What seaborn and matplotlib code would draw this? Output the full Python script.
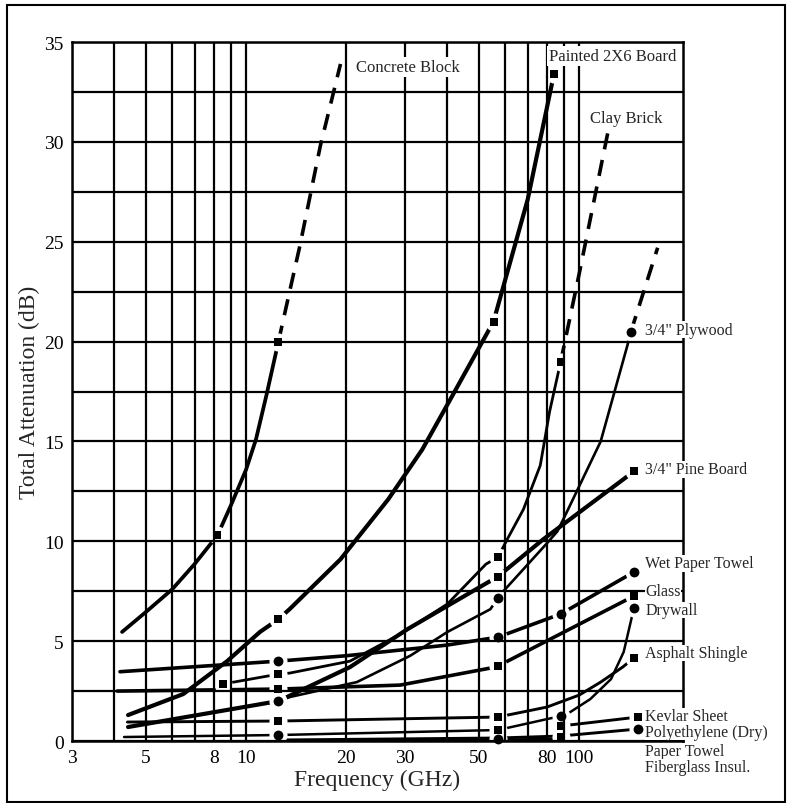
import matplotlib
matplotlib.use("Agg")
import matplotlib.pyplot as plt
import seaborn as sns
from matplotlib.ticker import FixedLocator, NullFormatter, FuncFormatter, MultipleLocator
from matplotlib.patches import Rectangle

# --- data (frequency in GHz, attenuation in dB) ---
concrete_f = [4.24, 5.0, 6.0, 7.0, 8.2, 9.0, 10.0, 10.7, 11.5, 12.5]
concrete_db = [5.46, 6.46, 7.6, 8.86, 10.3, 11.8, 13.6, 15.1, 17.3, 20.0]
concrete_ext_f = [12.5, 14.5, 16.7, 19.2]
concrete_ext_db = [20.0, 24.8, 29.8, 33.9]

painted_f = [4.42, 6.47, 8.77, 11.0, 12.5, 13.5, 19.2, 26.7, 33.8, 41.0, 55.3, 70.0, 84.0]
painted_db = [1.3, 2.35, 4.0, 5.46, 6.1, 6.6, 9.1, 12.1, 14.6, 17.1, 21.0, 27.1, 33.4]

clay_f = [8.5, 12.5, 13.5, 20.5, 29.1, 40.2, 52.5, 57.0, 60.8, 68.0, 76.4, 81.5, 88.0]
clay_db = [2.85, 3.35, 3.4, 4.0, 5.36, 6.86, 8.86, 9.2, 10.1, 11.6, 13.8, 16.5, 19.0]
clay_ext_f = [88.0, 100.0, 122.0]
clay_ext_db = [19.0, 23.4, 30.5]

pine_f = [4.42, 12.5, 20.5, 30.5, 53.4, 57.0, 59.2, 78.0, 146.0]
pine_db = [0.7, 2.0, 3.7, 5.6, 7.96, 8.2, 8.46, 10.1, 13.5]

plywood_f = [12.5, 13.5, 21.5, 31.1, 40.2, 54.1, 57.0, 59.2, 80.0, 86.0, 92.0, 116.0, 139.5, 143.0]
plywood_db = [2.0, 2.2, 2.95, 4.27, 5.46, 6.6, 7.15, 7.5, 9.9, 10.5, 11.5, 15.0, 19.8, 20.5]
plywood_ext_f = [143.0, 172.0]
plywood_ext_db = [20.5, 24.7]

wet_f = [4.18, 12.5, 20.0, 40.0, 57.0, 88.0, 146.0]
wet_db = [3.47, 4.0, 4.27, 4.8, 5.2, 6.36, 8.46]

glass_f = [4.1, 12.5, 29.0, 54.0, 57.0, 146.0]
glass_db = [2.5, 2.6, 2.8, 3.65, 3.75, 7.26]

drywall_f = [4.3, 12.5, 57.0, 88.0, 94.0, 108.0, 124.6, 136.0, 146.0]
drywall_db = [0.2, 0.3, 0.55, 1.25, 1.45, 2.1, 3.1, 4.46, 6.66]

asphalt_f = [4.4, 12.5, 57.0, 80.0, 100.0, 116.0, 135.0, 146.0]
asphalt_db = [0.95, 1.0, 1.2, 1.7, 2.3, 2.95, 3.7, 4.16]

kevlar_f = [88.0, 150.0]
kevlar_db = [0.75, 1.2]
poly_f = [88.0, 150.0]
poly_db = [0.25, 0.6]
paper_f = [12.5, 57.0, 88.0]
paper_db = [0.05, 0.15, 0.25]
fiber_f = [12.5, 57.0, 88.0]
fiber_db = [0.0, 0.05, 0.1]

# measured points
sq_f = [8.2, 12.5, 12.5, 55.3, 84.0, 8.5, 12.5, 57.0, 88.0, 57.0, 146.0, 12.5, 57.0,
        146.0, 12.5, 57.0, 146.0, 57.0, 88.0, 88.0, 150.0]
sq_db = [10.3, 20.0, 6.1, 21.0, 33.4, 2.85, 3.35, 9.2, 19.0, 8.2, 13.5, 2.6, 3.75,
         7.26, 1.0, 1.2, 4.16, 0.55, 0.75, 0.2, 1.2]
ci_f = [12.5, 57.0, 88.0, 146.0, 12.5, 57.0, 143.0, 146.0, 88.0, 12.5, 57.0, 150.0]
ci_db = [4.0, 5.2, 6.36, 8.46, 2.0, 7.15, 20.5, 6.66, 1.25, 0.3, 0.1, 0.6]

# curve labels
top_labels = ["Concrete Block", "Painted 2X6 Board", "Clay Brick"]
top_label_f = [21.4, 81.0, 107.5]
top_label_db = [33.75, 34.3, 31.2]
side_labels = ['3/4" Plywood', '3/4" Pine Board', "Wet Paper Towel", "Glass", "Drywall",
               "Asphalt Shingle", "Kevlar Sheet", "Polyethylene (Dry)", "Paper Towel",
               "Fiberglass Insul."]
side_label_db = [20.6, 13.6, 8.9, 7.5, 6.56, 4.4, 1.25, 0.45, -0.5, -1.3]

x_labeled = [3, 5, 8, 10, 20, 30, 50, 80, 100]
x_unlabeled = [4, 6, 7, 9, 40, 60, 70, 90]

sns.set_style("white")
plt.rcParams['font.family'] = ['Liberation Serif', 'DejaVu Serif']

fig = plt.figure(figsize=(7.87, 8.04), dpi=100)
ax = fig.add_axes([0.0915, 0.0771, 0.7764, 0.8694])
ax.set_xscale('log')

# solid curves
solid = [
    (concrete_f, concrete_db, 2.7),
    (painted_f, painted_db, 3.0),
    (clay_f, clay_db, 2.0),
    (pine_f, pine_db, 3.0),
    (plywood_f, plywood_db, 1.9),
    (wet_f, wet_db, 2.6),
    (glass_f, glass_db, 2.6),
    (drywall_f, drywall_db, 1.8),
    (asphalt_f, asphalt_db, 2.1),
    (kevlar_f, kevlar_db, 2.1),
    (poly_f, poly_db, 2.1),
    (paper_f, paper_db, 2.1),
    (fiber_f, fiber_db, 2.1),
]
for xs, ys, lw in solid:
    sns.lineplot(x=xs, y=ys, ax=ax, color='black', lw=lw, sort=False,
                 estimator=None, zorder=2)

# dashed extrapolations
for xs, ys in [(concrete_ext_f, concrete_ext_db), (clay_ext_f, clay_ext_db),
               (plywood_ext_f, plywood_ext_db)]:
    sns.lineplot(x=xs, y=ys, ax=ax, color='black', lw=2.6, sort=False,
                 estimator=None, zorder=2, linestyle=(0, (4.5, 3)))

# white gaps around the markers, then the markers
sns.scatterplot(x=sq_f + ci_f, y=sq_db + ci_db, ax=ax, color='white', marker='o',
                s=170, linewidth=0, zorder=2.2, clip_on=False)
sns.scatterplot(x=sq_f, y=sq_db, ax=ax, color='black', marker='s', s=30,
                linewidth=0, zorder=3, clip_on=False)
sns.scatterplot(x=ci_f, y=ci_db, ax=ax, color='black', marker='o', s=50,
                linewidth=0, zorder=3, clip_on=False)

ax.set_xlim(3, 205)
ax.set_ylim(0, 35)
ax.set_axisbelow(False)

ax.xaxis.set_major_locator(FixedLocator(x_labeled))
ax.xaxis.set_minor_locator(FixedLocator(x_unlabeled))
ax.xaxis.set_major_formatter(FuncFormatter(lambda v, p: f"{v:g}"))
ax.xaxis.set_minor_formatter(NullFormatter())
ax.yaxis.set_major_locator(MultipleLocator(5))
ax.yaxis.set_minor_locator(MultipleLocator(2.5))
ax.grid(True, which='both', color='black', lw=1.6)
ax.tick_params(which='both', length=0, labelsize=14, pad=6, colors='black')
for sp in ax.spines.values():
    sp.set_color('black')
    sp.set_linewidth(1.8)

ax.set_xlabel('Frequency (GHz)', fontsize=17, labelpad=2)
ax.set_ylabel('Total Attenuation (dB)', fontsize=17, labelpad=3)

for txt, f, d in zip(top_labels, top_label_f, top_label_db):
    ax.text(f, d, txt, fontsize=12, va='center', ha='left', zorder=4,
            bbox=dict(fc='white', ec='none', pad=1.5))
for txt, d in zip(side_labels, side_label_db):
    ax.text(158, d, txt, fontsize=11.5, va='center', ha='left', zorder=4,
            bbox=dict(fc='white', ec='none', pad=0.2))

fig.add_artist(Rectangle((0.009, 0.0015), 0.988, 0.991, transform=fig.transFigure,
                         fill=False, lw=1.5, ec='black'))

fig.savefig('out.png', dpi=100)
